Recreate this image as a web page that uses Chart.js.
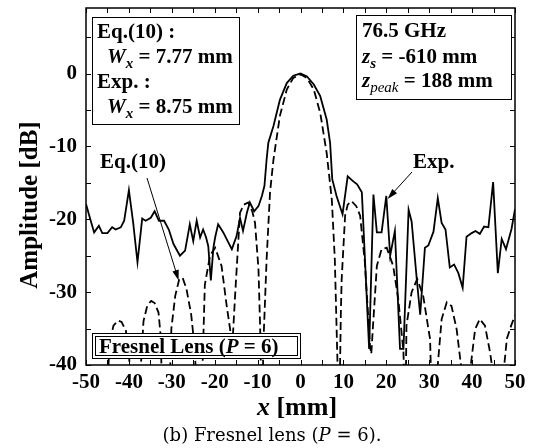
<!DOCTYPE html>
<html>
<head>
<meta charset="utf-8">
<script src="https://cdn.jsdelivr.net/npm/chart.js@4"></script>
<style>
  html, body { margin: 0; padding: 0; background: #fff; }
  #wrap { width: 537px; height: 448px; position: relative; }
</style>
</head>
<body>
<div id="wrap"><canvas id="beam-chart"></canvas></div>
<script>
// measured profile (Exp.)
const expX = [-50, -49, -48.1, -47, -46.2, -45, -43.9, -43.1, -41.9, -41.1, -40, -39, -38, -36.9, -36.1,
  -34.9, -34, -33, -31.8, -30.7, -29.6, -28.1, -26.9, -25.8, -25, -24.2, -23.4, -22.7, -22, -21.5,
  -20.9, -20.3, -19.9, -19.2, -18, -16.8, -16, -14.9, -14.1, -13.4, -12.5, -11.8, -10.8, -9.8, -9,
  -8.4, -7.9, -7.5, -6.3, -4.8, -3.2, -1.7, 0, 1.5, 3.1, 4.6, 6.1, 6.9, 7.4, 8.4, 9.8, 11, 12.3, 13.2,
  14.3, 16, 17, 17.8, 18.9, 20, 20.9, 22, 23.2, 24, 25.2, 25.9, 27.1, 27.9, 29, 29.8, 31, 32, 32.9,
  33.8, 34.8, 35.8, 36.8, 37.8, 38.7, 39.9, 40.8, 41.8, 42.8, 43.8, 44.9, 46, 46.9, 47.9, 49.2, 50];
const expY = [-17.9, -20.0, -21.8, -20.9, -21.9, -21.9, -21.1, -21.4, -21.1, -20.2, -16.0, -20.5, -25.9, -19.9, -20.2,
  -19.8, -18.9, -20.2, -20.2, -21.4, -23.4, -25.0, -24.3, -20.7, -23.0, -20.2, -22.5, -21.4, -22.5, -23.7,
  -28.4, -23.9, -22.5, -20.7, -21.8, -23.2, -24.1, -22.3, -19.8, -21.6, -19.1, -17.7, -18.9, -18.2, -16.8,
  -15.4, -11.8, -9.5, -7.2, -3.6, -1.3, -0.3, 0, -0.4, -1.5, -3.1, -6.3, -9.5, -14.5, -16.8, -19.3, -14.1, -14.8, -15.2,
  -16.3, -37.8, -16.6, -21.8, -21.8, -16.8, -25.0, -21.6, -37.8, -37.8, -18.7, -20.3, -28.2, -33.1, -23.9, -23.6, -21.7, -17.1, -20.5,
  -21.4, -26.6, -26.2, -27.4, -29.4, -22.4, -21.9, -21.6, -22.0, -21.0, -21.1, -14.9, -27.4, -22.7, -24.1, -21.3, -18.6];

// calculated profile (Eq.(10))
const eqX = [-45.2, -44.5, -43.6, -42.5, -41.7, -40.7, -40, -39.5,
  -37.5, -37.2, -36.6, -35.7, -34.8, -34, -33.1, -32.6, -32.2,
  -30.6, -30.1, -29.2, -28.3, -27.5, -26.6, -25.5, -24.6, -24.2,
  -23.6, -22.8, -22.3, -21.1, -19.9, -18.4, -17.2, -16.4, -16.1,
  -15.9, -15.2, -14.1, -13.2, -12.2, -11.2, -10.6, -9.8, -9.4, -9.1,
  -8.8, -8.7, -7.9, -7.1, -6.3, -4.8, -3.2, -1.7, 0, 1.5, 3.1, 4.6, 6.1, 7.3, 8, 8.6, 8.9,
  9.1, 9.4, 9.6, 10.4, 11, 11.9, 13, 13.9, 15, 16.2, 16.5,
  17, 17.8, 18.9, 20.1, 21.6, 22.8, 24, 24.3,
  24.5, 24.7, 25.9, 27.2, 28.6, 29.8, 30.2, 30.6,
  31.8, 32, 32.9, 34.1, 35.2, 36.4, 37.4, 37.6,
  39.5, 39.7, 40.7, 41.8, 43, 44.2, 44.6, 44.8,
  47.3, 47.5, 48.1, 49.1, 50];
const eqY = [-45, -37, -34.6, -33.9, -34.1, -35.3, -38, -45,
  -45, -40, -34, -31.8, -31.2, -31.5, -32.8, -36, -45,
  -45, -35, -30.5, -28.3, -28.0, -29.5, -33, -38, -45,
  -45, -39.5, -29, -25.0, -23.9, -26.4, -31.9, -35.1, -37.5,
  -37.5, -30, -19.1, -18.0, -17.7, -19, -20.5, -26.8, -35, -45,
  -45, -37.8, -25.5, -16.3, -11.8, -5.8, -2.2, -0.6, -0.1, -0.6, -2.2, -5.4, -10.9, -17.3, -25.5, -39.2, -45,
  -45, -33, -28.2, -19.5, -18, -17.5, -18.2, -19.5, -25.9, -37.4, -38.5,
  -33.7, -26.4, -24.1, -23.9, -26.4, -31.0, -38.2, -45,
  -45, -34.6, -30.0, -28.2, -30.5, -35, -36.4, -45,
  -45, -40, -33.7, -31.4, -31.9, -35.1, -40, -45,
  -45, -40, -35.1, -33.7, -34.6, -38.3, -40, -45,
  -45, -40, -36.4, -34.6, -33.2];

const xTicks = [-50, -40, -30, -20, -10, 0, 10, 20, 30, 40, 50];
const yTicks = [-40, -30, -20, -10, 0];

const serif = '"Liberation Serif", "Times New Roman", serif';
const capSerif = '"DejaVu Serif", serif';

function toPoints(xs, ys) {
  return xs.map((x, i) => ({ x: x, y: ys[i] }));
}

// draw a line of text made of runs with own font / baseline shift
function drawRuns(ctx, x, y, runs) {
  let cx = x;
  runs.forEach(r => {
    ctx.font = r.font;
    ctx.fillText(r.t, cx, y + (r.dy || 0));
    cx += ctx.measureText(r.t).width;
  });
  return cx;
}

function runsWidth(ctx, runs) {
  let w = 0;
  runs.forEach(r => { ctx.font = r.font; w += ctx.measureText(r.t).width; });
  return w;
}

function arrow(ctx, x1, y1, x2, y2) {
  const ang = Math.atan2(y2 - y1, x2 - x1);
  const len = 11, half = 0.3;
  ctx.beginPath();
  ctx.moveTo(x1, y1);
  ctx.lineTo(x2 - Math.cos(ang) * len * 0.8, y2 - Math.sin(ang) * len * 0.8);
  ctx.stroke();
  ctx.beginPath();
  ctx.moveTo(x2, y2);
  ctx.lineTo(x2 - len * Math.cos(ang - half), y2 - len * Math.sin(ang - half));
  ctx.lineTo(x2 - len * Math.cos(ang + half), y2 - len * Math.sin(ang + half));
  ctx.closePath();
  ctx.fill();
}

const B = 'bold 21px ' + serif;
const BI = 'italic bold 21px ' + serif;
const SUB = 'italic bold 15px ' + serif;

const overlay = {
  id: 'overlay',
  afterDraw(chart) {
    const { ctx, chartArea: a, scales: { x, y } } = chart;
    ctx.save();
    ctx.fillStyle = '#000';
    ctx.strokeStyle = '#000';
    ctx.textBaseline = 'alphabetic';
    ctx.textAlign = 'left';

    // inward ticks on all four sides
    ctx.lineWidth = 1;
    ctx.beginPath();
    for (let v = -50; v <= 50; v += 5) {
      const px = Math.round(x.getPixelForValue(v)) + 0.5;
      ctx.moveTo(px, a.bottom); ctx.lineTo(px, a.bottom - 5);
      ctx.moveTo(px, a.top); ctx.lineTo(px, a.top + 5);
    }
    for (let v = -40; v <= 5; v += 5) {
      const py = Math.round(y.getPixelForValue(v)) + 0.5;
      ctx.moveTo(a.left, py); ctx.lineTo(a.left + 5, py);
      ctx.moveTo(a.right, py); ctx.lineTo(a.right - 5, py);
    }
    ctx.stroke();

    // frame
    ctx.lineWidth = 1.5;
    ctx.strokeRect(a.left, a.top, a.right - a.left, a.bottom - a.top);

    // box: Eq.(10) / Exp. widths
    const b1 = { l: a.left + 6, t: a.top + 9, w: 147, h: 107 };
    ctx.fillStyle = '#fff';
    ctx.fillRect(b1.l, b1.t, b1.w, b1.h);
    ctx.lineWidth = 1;
    ctx.strokeRect(b1.l + 0.5, b1.t + 0.5, b1.w, b1.h);
    ctx.fillStyle = '#000';
    drawRuns(ctx, b1.l + 5, b1.t + 21, [{ t: 'Eq.(10) :', font: B }]);
    drawRuns(ctx, b1.l + 15, b1.t + 46, [
      { t: 'W', font: BI }, { t: 'x', font: SUB, dy: 5 }, { t: ' = 7.77 mm', font: B }]);
    drawRuns(ctx, b1.l + 5, b1.t + 71, [{ t: 'Exp. :', font: B }]);
    drawRuns(ctx, b1.l + 15, b1.t + 96, [
      { t: 'W', font: BI }, { t: 'x', font: SUB, dy: 5 }, { t: ' = 8.75 mm', font: B }]);

    // box: frequency and distances
    const b2 = { l: 356, t: a.top + 7, w: 155, h: 84 };
    ctx.fillStyle = '#fff';
    ctx.fillRect(b2.l, b2.t, b2.w, b2.h);
    ctx.strokeRect(b2.l + 0.5, b2.t + 0.5, b2.w, b2.h);
    ctx.fillStyle = '#000';
    drawRuns(ctx, b2.l + 6, b2.t + 22, [{ t: '76.5 GHz', font: B }]);
    drawRuns(ctx, b2.l + 6, b2.t + 48, [
      { t: 'z', font: BI }, { t: 's', font: SUB, dy: 5 }, { t: ' = -610 mm', font: B }]);
    drawRuns(ctx, b2.l + 6, b2.t + 72, [
      { t: 'z', font: BI }, { t: 'peak', font: 'italic 15px ' + serif, dy: 5 }, { t: ' = 188 mm', font: B }]);

    // box: lens label (double frame)
    const b3 = { l: a.left + 6, t: 333, w: 208, h: 25 };
    ctx.fillStyle = '#fff';
    ctx.fillRect(b3.l, b3.t, b3.w, b3.h);
    ctx.strokeRect(b3.l + 0.5, b3.t + 0.5, b3.w, b3.h);
    ctx.strokeRect(b3.l + 3.5, b3.t + 3.5, b3.w - 6, b3.h - 6);
    ctx.fillStyle = '#000';
    drawRuns(ctx, b3.l + 7, b3.t + 20, [
      { t: 'Fresnel Lens (', font: B }, { t: 'P', font: BI }, { t: ' = 6)', font: B }]);

    // annotations with arrows
    ctx.lineWidth = 1;
    drawRuns(ctx, 100, 168, [{ t: 'Eq.(10)', font: B }]);
    arrow(ctx, 147, 178, x.getPixelForValue(-28.4), y.getPixelForValue(-28.4));
    drawRuns(ctx, 413, 168, [{ t: 'Exp.', font: B }]);
    arrow(ctx, 412, 172, x.getPixelForValue(20.3), y.getPixelForValue(-17.2));

    // x axis title
    const xt = [{ t: 'x', font: 'italic bold 26px ' + serif }, { t: ' [mm]', font: 'bold 26px ' + serif }];
    drawRuns(ctx, 297 - runsWidth(ctx, xt) / 2, 415, xt);

    // y axis title
    ctx.save();
    ctx.translate(37, 205);
    ctx.rotate(-Math.PI / 2);
    ctx.font = 'bold 25px ' + serif;
    ctx.textAlign = 'center';
    ctx.fillText('Amplitude [dB]', 0, 0);
    ctx.restore();

    // caption
    const cap = [
      { t: '(b) Fresnel lens (', font: '18px ' + capSerif },
      { t: 'P', font: 'italic 18px ' + capSerif },
      { t: ' = 6).', font: '18px ' + capSerif }];
    drawRuns(ctx, 272 - runsWidth(ctx, cap) / 2, 441, cap);

    ctx.restore();
  }
};

const ctx = document.getElementById('beam-chart').getContext('2d');

new Chart(ctx, {
  type: 'scatter',
  data: {
    datasets: [{
      label: 'Exp.',
      data: toPoints(expX, expY),
      showLine: true,
      borderColor: '#000',
      borderWidth: 1.8,
      pointRadius: 0,
      tension: 0
    }, {
      label: 'Eq.(10)',
      data: toPoints(eqX, eqY),
      showLine: true,
      borderColor: '#000',
      borderWidth: 1.8,
      borderDash: [8, 4],
      pointRadius: 0,
      tension: 0
    }]
  },
  options: {
    responsive: true,
    maintainAspectRatio: false,
    animation: false,
    devicePixelRatio: 1,
    layout: { padding: { top: 8, right: 22, left: 0, bottom: 0 } },
    plugins: {
      legend: { display: false },
      tooltip: { enabled: false }
    },
    scales: {
      x: {
        type: 'linear',
        min: -50,
        max: 50,
        grid: { display: false, drawTicks: false },
        border: { display: false },
        afterBuildTicks: s => { s.ticks = xTicks.map(v => ({ value: v })); },
        afterFit: s => { s.height = 83; s.paddingLeft = 0; s.paddingRight = 0; },
        ticks: {
          color: '#000',
          padding: 5,
          maxRotation: 0,
          autoSkip: false,
          font: { family: serif, size: 21, weight: 'bold' }
        }
      },
      y: {
        type: 'linear',
        min: -40,
        max: 9,
        grid: { display: false, drawTicks: false },
        border: { display: false },
        afterBuildTicks: s => { s.ticks = yTicks.map(v => ({ value: v })); },
        afterFit: s => { s.width = 86; s.paddingTop = 0; s.paddingBottom = 0; },
        ticks: {
          color: '#000',
          padding: 9,
          autoSkip: false,
          font: { family: serif, size: 21, weight: 'bold' }
        }
      }
    }
  },
  plugins: [overlay]
});
</script>
</body>
</html>
